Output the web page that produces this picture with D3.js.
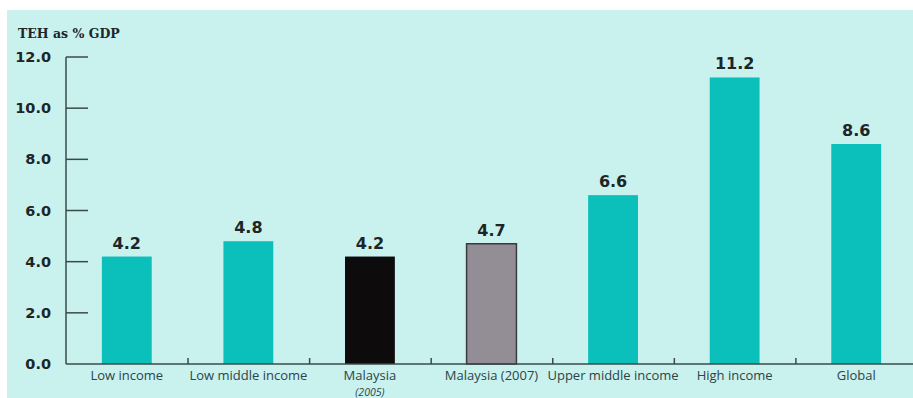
<!DOCTYPE html>
<html><head><meta charset="utf-8">
<script src="https://cdn.jsdelivr.net/npm/d3@7"></script>
<style>body{margin:0;background:#fff;}svg{display:block;}</style>
</head><body>
<svg id="c" width="913" height="398"></svg>
<script>
const categories = ["Low income","Low middle income","Malaysia","Malaysia (2007)","Upper middle income","High income","Global"];
const subLabels = ["","","(2005)","","","",""];
const values = [4.2,4.8,4.2,4.7,6.6,11.2,8.6];
const barColors = ["#0bbfbb","#0bbfbb","#0d0b0c","#938e95","#0bbfbb","#0bbfbb","#0bbfbb"];
const yTicks = [0,2,4,6,8,10,12];
const yTitle = "TEH as % GDP";

const svg = d3.select("#c");
svg.append("rect").attr("x",7).attr("y",10).attr("width",906).attr("height",388).attr("fill","#c9f1ee");

const x = d3.scaleBand().domain(categories).range([66,917]).paddingInner(0.59).paddingOuter(0.295);
const y = d3.scaleLinear().domain([0,12]).range([364,57]);

// y axis
const ya = svg.append("g");
ya.append("line").attr("x1",66).attr("x2",66).attr("y1",y(12)).attr("y2",y(0)).attr("stroke","#3a4a4c").attr("stroke-width",1.5);
ya.selectAll("line.t").data(yTicks.filter(d=>d>0)).join("line").attr("class","t")
  .attr("x1",66).attr("x2",88).attr("y1",d=>y(d)).attr("y2",d=>y(d)).attr("stroke","#3a4a4c").attr("stroke-width",1.5);
ya.selectAll("text").data(yTicks).join("text")
  .attr("x",51).attr("y",d=>y(d)+5).attr("text-anchor","end")
  .attr("font-family","DejaVu Sans, sans-serif").attr("font-weight","bold").attr("font-size",14.5).attr("fill","#1e2526")
  .text(d=>d.toFixed(1));
svg.append("text").attr("x",18).attr("y",38).attr("font-family","DejaVu Serif, serif").attr("font-weight","bold")
  .attr("font-size",12.5).attr("fill","#1e2526").text(yTitle);

// bars
svg.selectAll("rect.bar").data(values).join("rect").attr("class","bar")
  .attr("x",(d,i)=>x(categories[i])).attr("width",x.bandwidth())
  .attr("y",d=>y(d)).attr("height",d=>y(0)-y(d))
  .attr("fill",(d,i)=>barColors[i])
  .attr("stroke",(d,i)=>i===3?"#3a3a3e":"none").attr("stroke-width",1.5);

svg.selectAll("text.val").data(values).join("text").attr("class","val")
  .attr("x",(d,i)=>x(categories[i])+x.bandwidth()/2).attr("y",d=>y(d)-8)
  .attr("text-anchor","middle").attr("font-family","DejaVu Sans, sans-serif").attr("font-weight","bold")
  .attr("font-size",16).attr("fill","#1e2526").text(d=>d.toFixed(1));

// x axis
svg.append("line").attr("x1",66).attr("x2",913).attr("y1",y(0)).attr("y2",y(0)).attr("stroke","#3a4a4c").attr("stroke-width",1.5);
svg.selectAll("line.xt").data(categories.slice(1)).join("line").attr("class","xt")
  .attr("x1",d=>x(d)-x.bandwidth()*0.71).attr("x2",d=>x(d)-x.bandwidth()*0.71)
  .attr("y1",y(0)).attr("y2",y(0)-6).attr("stroke","#3a4a4c").attr("stroke-width",1.5);
svg.selectAll("text.cat").data(categories).join("text").attr("class","cat")
  .attr("x",d=>x(d)+x.bandwidth()/2).attr("y",380).attr("text-anchor","middle")
  .attr("font-family","Open Sans, sans-serif").attr("font-size",13).attr("fill","#2d4448").text(d=>d);
svg.selectAll("text.sub").data(subLabels).join("text").attr("class","sub")
  .attr("x",(d,i)=>x(categories[i])+x.bandwidth()/2).attr("y",395.5).attr("text-anchor","middle")
  .attr("font-family","Open Sans, sans-serif").attr("font-style","italic").attr("font-size",10.5).attr("fill","#2d4448").text(d=>d);
</script>
</body></html>
